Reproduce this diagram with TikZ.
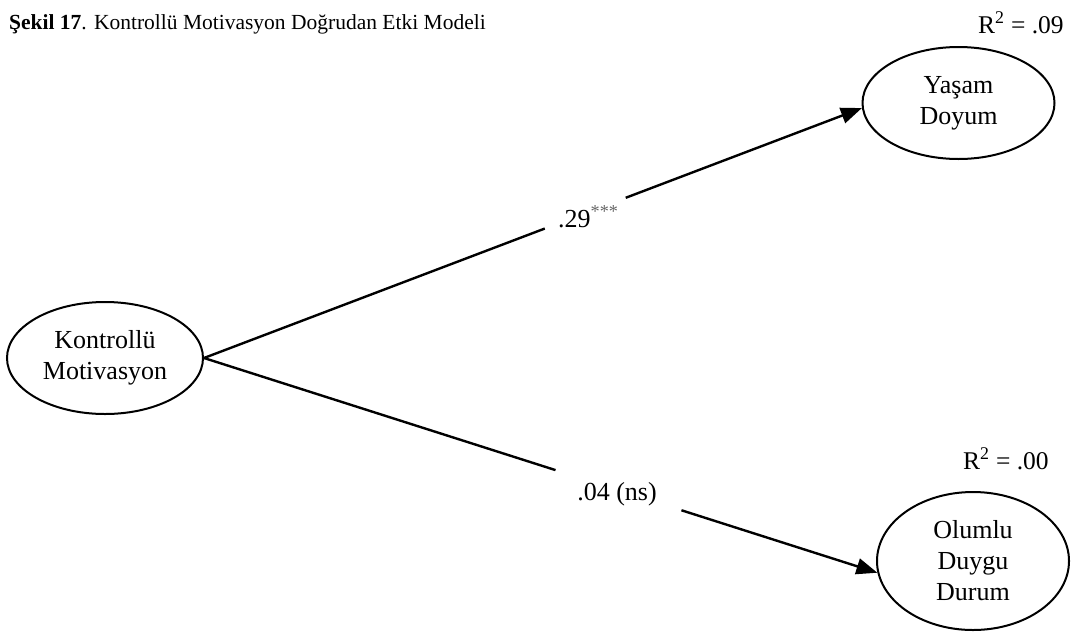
\documentclass[tikz,border=0pt]{standalone}
\usepackage{fontspec}
\setmainfont{Liberation Serif}
\usetikzlibrary{shapes.geometric,arrows.meta}
\tikzset{
  latent/.style={draw, ellipse, line width=2pt, inner sep=0pt, align=center,
    font=\fontsize{26}{31}\selectfont},
  conn/.style={line width=2.4pt},
  arr/.style={conn, -{Triangle[length=21pt,width=16pt]}},
  coef/.style={font=\fontsize{26}{31}\selectfont, inner sep=0pt},
  rsq/.style={font=\fontsize{25.5}{31}\selectfont, inner sep=0pt, anchor=base west},
}
\begin{document}
\begin{tikzpicture}[x=1pt,y=-1pt]
\useasboundingbox (0,0) rectangle (1075,632);
\node[anchor=base west, inner sep=0pt, font=\fontsize{21.5}{26}\selectfont] (title) at (9,29)
  {\textbf{Şekil 17}. Kontrollü Motivasyon Doğrudan Etki Modeli};

\node[latent, minimum width=196pt, minimum height=112pt] (km) at (105,358) {Kontrollü\\Motivasyon};
\node[latent, minimum width=192pt, minimum height=112pt] (yd) at (958.5,103)
  {\raisebox{-4pt}{\begin{tabular}{@{}c@{}}Yaşam\\Doyum\end{tabular}}};
\node[latent, minimum width=192pt, minimum height=138pt] (od) at (973,561) {Olumlu\\Duygu\\Durum};

\node[rsq] (r1) at (978,33) {R\textsuperscript{2} = .09};
\node[rsq] (r2) at (963,469) {R\textsuperscript{2} = .00};

% upper path
\path (km.east) -- coordinate[pos=0.518] (g1) coordinate[pos=0.641] (g2) (yd.183);
\draw[conn] (km.east) -- (g1);
\draw[arr] (g2) -- (yd.183);
\node[coef, anchor=base west] (c1) at (558,227) {.29\textsuperscript{\color{black!60}***}};

% lower path
\path (km.east) -- coordinate[pos=0.522] (h1) coordinate[pos=0.709] (h2) (od.187);
\draw[conn] (km.east) -- (h1);
\draw[arr] (h2) -- (od.187);
\node[coef, anchor=base] (c2) at (617,500) {.04 (ns)};
\end{tikzpicture}
\end{document}
